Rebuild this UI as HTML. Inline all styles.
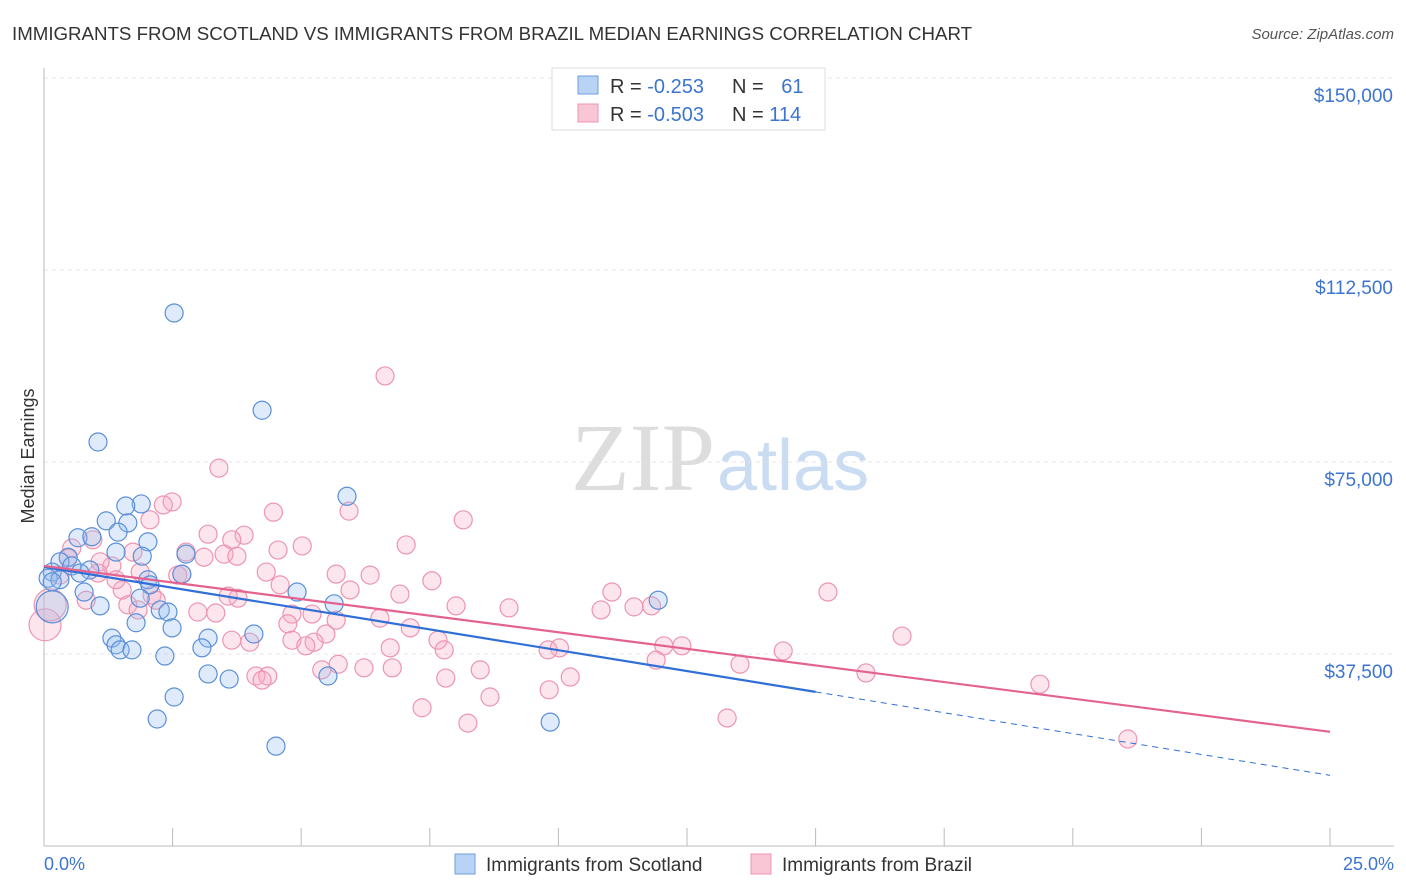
<!DOCTYPE html>
<html><head><meta charset="utf-8"><style>
body{margin:0;background:#fff;font-family:"Liberation Sans",sans-serif}
svg{display:block}
</style></head><body>
<svg id="chart" width="1406" height="892" xmlns="http://www.w3.org/2000/svg">
<text x="12" y="40" font-size="18.7" fill="#333">IMMIGRANTS FROM SCOTLAND VS IMMIGRANTS FROM BRAZIL MEDIAN EARNINGS CORRELATION CHART</text>
<text x="1394" y="39" font-size="15" fill="#555" font-style="italic" text-anchor="end">Source: ZipAtlas.com</text>
<text x="715" y="490" font-size="96" fill="#ddd" font-family="Liberation Serif" text-anchor="end">ZIP</text>
<text x="717" y="490" font-size="72" fill="#c9dcf2">atlas</text>
<text x="34" y="456" font-size="18" fill="#333" transform="rotate(-90 34 456)" text-anchor="middle">Median Earnings</text>
<g id="grid"></g><g id="pts"></g><g id="lines"></g>
<g>
<rect x="552" y="68" width="273" height="62" fill="#fff" stroke="#ddd"/>
<rect x="578" y="76" width="20" height="18" fill="#b9d3f5" stroke="#6f9ee0"/>
<rect x="578" y="104" width="20" height="18" fill="#f9c6d5" stroke="#ec95b1"/>
<text x="610" y="93" font-size="20" fill="#333">R = <tspan fill="#3c74d0">-0.253</tspan></text>
<text x="732" y="93" font-size="20" fill="#333">N = <tspan fill="#3c74d0" dx="12">61</tspan></text>
<text x="610" y="121" font-size="20" fill="#333">R = <tspan fill="#3c74d0">-0.503</tspan></text>
<text x="732" y="121" font-size="20" fill="#333">N = <tspan fill="#3c74d0">114</tspan></text>
</g>
<g>
<rect x="455" y="854" width="20" height="20" fill="#b9d3f5" stroke="#6f9ee0"/>
<text x="486" y="871" font-size="19" fill="#333">Immigrants from Scotland</text>
<rect x="751" y="854" width="20" height="20" fill="#f9c6d5" stroke="#ec95b1"/>
<text x="782" y="871" font-size="19" fill="#333">Immigrants from Brazil</text>
</g>
<text x="44" y="870" font-size="18" fill="#3c74d0">0.0%</text>
<text x="1394" y="870" font-size="18" fill="#3c74d0" text-anchor="end">25.0%</text>
</svg>
<script>
const yTicks=[150000,112500,75000,37500];
const yTickLabels=["$150,000","$112,500","$75,000","$37,500"];
const xTicks=[0,2.5,5,7.5,10,12.5,15,17.5,20,22.5,25];
const blueX=[2.53,4.24,1.05,5.89,1.89,1.59,1.21,1.63,0.66,0.93,1.44,2.02,1.40,2.76,1.91,0.47,0.31,0.54,0.89,0.16,0.70,0.08,0.31,2.02,2.06,2.68,0.78,4.92,11.94,1.87,1.09,2.26,2.41,5.64,1.79,2.49,4.08,1.32,3.19,1.40,3.07,1.48,1.71,2.35,3.19,3.6,5.52,2.53,2.2,9.84,4.51,0.16,0.16];
const blueY=[104100,85100,78900,68300,66800,66400,63500,63100,60200,60400,61300,59400,57400,57000,56600,56400,55500,54700,53900,53500,53300,52300,52000,52000,51000,53100,49600,49600,48000,48400,46900,46100,45700,47300,43600,42600,41400,40600,40600,39300,38700,38300,38300,37100,33600,32600,33200,29100,24800,24200,19500,51600,46700];
const blueR=[9,9,9,9,9,9,9,9,9,9,9,9,9,9,9,9,9,9,9,9,9,9,9,9,9,9,9,9,9,9,9,9,9,9,9,9,9,9,9,9,9,9,9,9,9,9,9,9,9,9,9,9,16];
const pinkX=[6.63,3.40,2.49,2.32,5.93,8.15,4.46,2.06,3.19,3.89,3.65,0.95,5.02,7.04,2.76,4.55,1.73,3.50,3.11,3.75,0.47,1.32,1.09,2.60,4.32,5.68,6.34,7.54,2.68,4.59,5.95,6.92,11.04,15.24,1.52,2.10,3.77,3.58,0.82,1.63,1.83,8.01,9.04,11.47,11.81,10.83,2.99,3.34,4.82,5.21,6.53,5.68,4.74,7.12,5.48,3.65,4.82,7.66,5.25,5.09,4.0,7.78,6.73,10.02,9.80,12.05,12.40,14.37,16.68,11.90,13.53,5.72,6.22,6.77,5.40,8.48,15.98,4.12,4.35,4.24,7.81,10.23,19.36,8.67,9.82,7.35,8.24,13.28,21.07,0.02,0.12,0.31,0.54,1.05,1.87,2.18,1.40];
const pinkY=[91800,73800,67200,66600,65400,63700,65200,63700,60900,60700,59800,59800,58600,58800,57400,57800,57400,57000,56400,56600,56200,54700,55500,52900,53500,53100,52900,51800,53100,51000,50000,49200,49600,49600,50000,49000,48400,48800,48000,47100,46100,46900,46500,46700,46900,46100,45700,45500,45300,45300,44500,44100,43400,42600,41400,40200,40200,40200,39800,39100,39800,38300,38700,38700,38300,39100,39100,38100,41000,36300,35500,35500,34800,34800,34400,34400,33800,33200,33200,32400,32800,33000,31600,29100,30500,27000,24000,25000,20900,43200,47100,52900,58200,53300,53500,48000,52000];
const blueLine=[[0,54500],[15,30100],[25,13800]];
const pinkLine=[[0,54700],[25,22300]];
const xs=v=>44+v*51.44, ys=v=>846-v/195.3;
const NS="http://www.w3.org/2000/svg";
function mk(tag,attrs,parent){const e=document.createElementNS(NS,tag);for(const k in attrs)e.setAttribute(k,attrs[k]);parent.appendChild(e);return e;}
const grid=document.getElementById('grid');
yTicks.forEach((t,i)=>{
 const l=mk('line',{x1:44,x2:1394,y1:ys(t),y2:ys(t),stroke:'#e4e4e4','stroke-dasharray':'4,4'},grid);
 
 
 const tx=mk('text',{x:1393,y:ys(t)+24,'font-size':19,fill:'#3c74d0','text-anchor':'end'},grid);
 tx.textContent=yTickLabels[i];
 
 
});
const ax=mk('line',{x1:44,x2:44,y1:68,y2:846,stroke:'#bbb'},grid);


const bx=mk('line',{x1:44,x2:1394,y1:846,y2:846,stroke:'#bbb'},grid);


xTicks.forEach(t=>{
 const l=mk('line',{x1:xs(t),x2:xs(t),y1:828,y2:846,stroke:'#bbb'},grid);
 
 
});
const pts=document.getElementById('pts');
pinkX.forEach((x,i)=>{
 const c=mk('circle',{cx:xs(x),cy:ys(pinkY[i]),r:(i>=89&&i<=90)?16:9,fill:'rgba(244,170,195,0.3)',stroke:'#ec95b1','stroke-width':1.2},pts);
 
 
});
blueX.forEach((x,i)=>{
 const c=mk('circle',{cx:xs(x),cy:ys(blueY[i]),r:blueR[i],fill:'rgba(150,190,240,0.3)',stroke:'#5b8fd9','stroke-width':1.2},pts);
 
 
});
const lines=document.getElementById('lines');
const b1=mk('line',{x1:xs(blueLine[0][0]),y1:ys(blueLine[0][1]),x2:xs(blueLine[1][0]),y2:ys(blueLine[1][1]),stroke:'#2f6fd6','stroke-width':2.2},lines);


const b2=mk('line',{x1:xs(blueLine[1][0]),y1:ys(blueLine[1][1]),x2:xs(blueLine[2][0]),y2:ys(blueLine[2][1]),stroke:'#2f6fd6','stroke-width':1,'stroke-dasharray':'6,5'},lines);


const p1=mk('line',{x1:xs(pinkLine[0][0]),y1:ys(pinkLine[0][1]),x2:xs(pinkLine[1][0]),y2:ys(pinkLine[1][1]),stroke:'#e4628f','stroke-width':2.2},lines);


</script>
</body></html>
